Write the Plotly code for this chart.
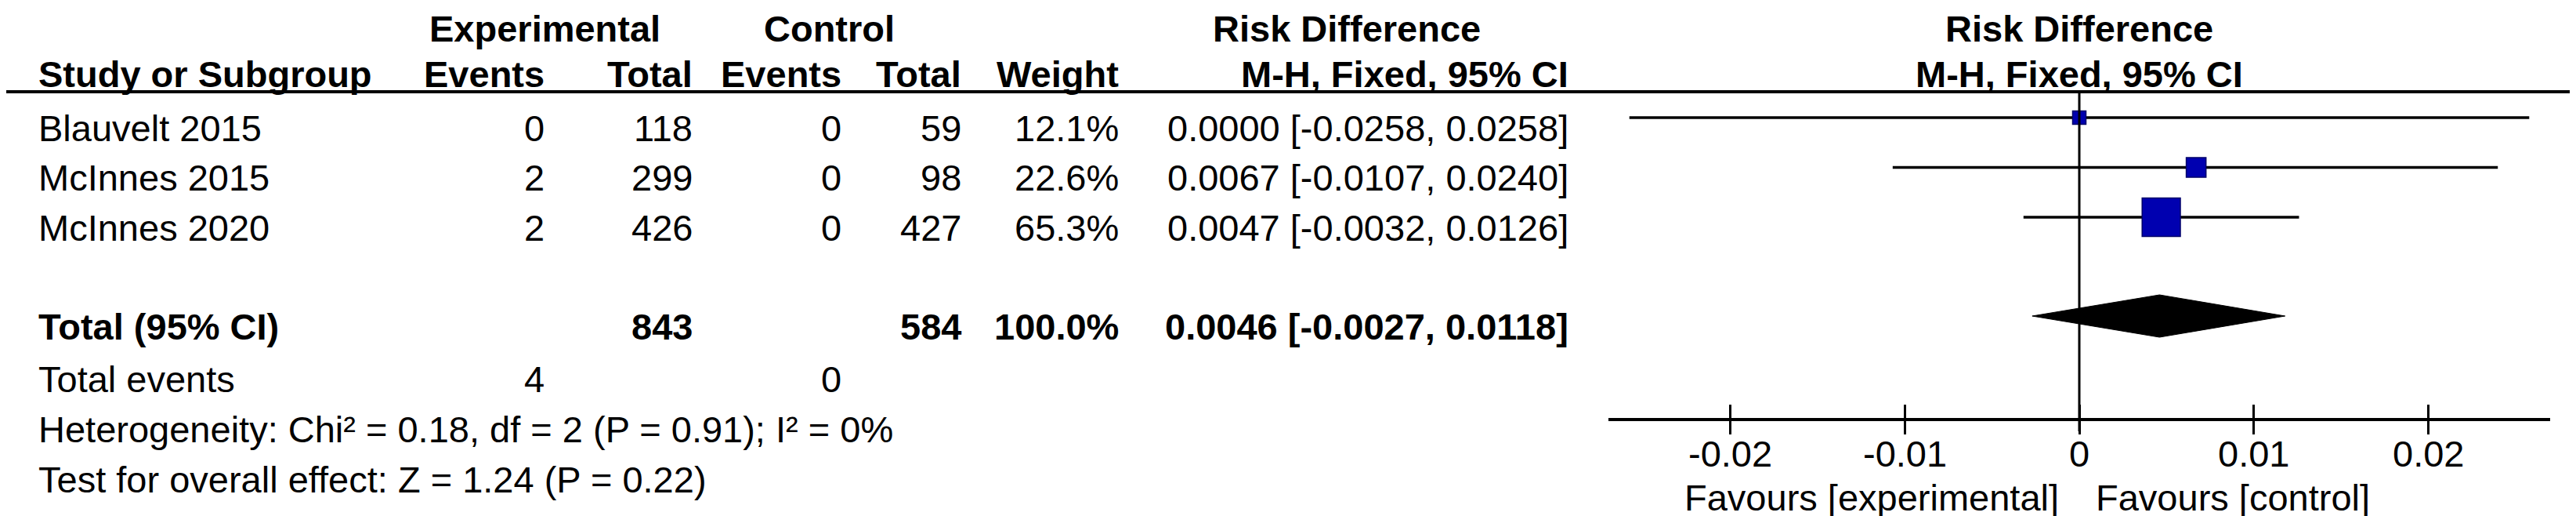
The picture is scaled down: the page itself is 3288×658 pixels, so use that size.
import plotly.graph_objects as go

# ---------------- data ----------------
studies = ["Blauvelt 2015", "McInnes 2015", "McInnes 2020"]
exp_events = [0, 2, 2]
exp_total = [118, 299, 426]
ctrl_events = [0, 0, 0]
ctrl_total = [59, 98, 427]
weights = [12.1, 22.6, 65.3]
rd = [0.0000, 0.0067, 0.0047]
rd_lo = [-0.0258, -0.0107, -0.0032]
rd_hi = [0.0258, 0.0240, 0.0126]

total_exp = 843
total_ctrl = 584
total_weight = 100.0
total_rd = 0.0046
total_lo = -0.0027
total_hi = 0.0118
total_events_exp = 4
total_events_ctrl = 0

heterogeneity = "Heterogeneity: Chi² = 0.18, df = 2 (P = 0.91); I² = 0%"
overall = "Test for overall effect: Z = 1.24 (P = 0.22)"

tick_vals = [-0.02, -0.01, 0, 0.01, 0.02]
tick_text = ["-0.02", "-0.01", "0", "0.01", "0.02"]
axis_range = [-0.027, 0.027]
favours_left = "Favours [experimental]"
favours_right = "Favours [control]"

# ---------------- layout constants (pixels) ----------------
W, H = 3288, 658
FONT = "Liberation Sans, Arial, sans-serif"
FS = 47
hdr1_y, hdr2_y, hline_y = 28, 86, 109
row0_y, row_dy = 155, 63.5
mark_off = -13
total_y, tevents_y, het_y, test_y = 408, 475, 539, 603
axis_y = 525
tick_lbl_y = 570
fav_y = 626
forest_x0, forest_x1 = 2045, 3247

col_events_e = 688
col_total_e = 877
col_events_c = 1067
col_total_c = 1220
col_weight = 1421
col_rd = 1995
col_study = 40

fig = go.Figure()

ann = []


def txt(x, y, s, anchor="left", bold=False, xref="x", xshift=0):
    ann.append(dict(x=x, y=y, xref=xref, yref="y", text=(f"<b>{s}</b>" if bold else s),
                    showarrow=False, xanchor=anchor, yanchor="middle", xshift=xshift,
                    borderpad=0,
                    font=dict(family=FONT, size=FS, color="black")))


# headers
txt(687, hdr1_y, "Experimental", "center", True)
txt(1050, hdr1_y, "Control", "center", True)
txt(1711, hdr1_y, "Risk Difference", "center", True)
txt(0, hdr1_y, "Risk Difference", "center", True, xref="x2")
txt(col_study, hdr2_y, "Study or Subgroup", "left", True)
txt(col_events_e, hdr2_y, "Events", "right", True)
txt(col_total_e, hdr2_y, "Total", "right", True)
txt(col_events_c, hdr2_y, "Events", "right", True)
txt(col_total_c, hdr2_y, "Total", "right", True)
txt(col_weight, hdr2_y, "Weight", "right", True)
txt(col_rd, hdr2_y, "M-H, Fixed, 95% CI", "right", True)
txt(0, hdr2_y, "M-H, Fixed, 95% CI", "center", True, xref="x2")

row_ys = [row0_y + i * row_dy for i in range(len(studies))]
for i, s in enumerate(studies):
    y = row_ys[i]
    txt(col_study, y, s)
    txt(col_events_e, y, str(exp_events[i]), "right")
    txt(col_total_e, y, str(exp_total[i]), "right")
    txt(col_events_c, y, str(ctrl_events[i]), "right")
    txt(col_total_c, y, str(ctrl_total[i]), "right")
    txt(col_weight, y, f"{weights[i]:.1f}%", "right")
    txt(col_rd, y, f"{rd[i]:.4f} [{rd_lo[i]:.4f}, {rd_hi[i]:.4f}]", "right")

txt(col_study, total_y, "Total (95% CI)", "left", True)
txt(col_total_e, total_y, str(total_exp), "right", True)
txt(col_total_c, total_y, str(total_ctrl), "right", True)
txt(col_weight, total_y, f"{total_weight:.1f}%", "right", True)
txt(col_rd, total_y, f"{total_rd:.4f} [{total_lo:.4f}, {total_hi:.4f}]", "right", True)
txt(col_study, tevents_y, "Total events")
txt(col_events_e, tevents_y, str(total_events_exp), "right")
txt(col_events_c, tevents_y, str(total_events_ctrl), "right")
txt(col_study, het_y, heterogeneity)
txt(col_study, test_y, overall)

# tick labels of the forest axis (placed through the x2 scale)
for v, t in zip(tick_vals, tick_text):
    txt(v, tick_lbl_y, t, "center", xref="x2")

txt(0, fav_y, favours_left, "right", xref="x2", xshift=-25)
txt(0, fav_y, favours_right, "left", xref="x2", xshift=20)

# ---------------- forest ----------------
mark_ys = [y + mark_off for y in row_ys]
fig.add_trace(go.Scatter(
    x=rd, y=mark_ys, xaxis="x2", yaxis="y2", mode="markers",
    marker=dict(size=1, color="rgba(0,0,0,0)"),
    error_x=dict(type="data", symmetric=False,
                 array=[h - m for h, m in zip(rd_hi, rd)],
                 arrayminus=[m - l for m, l in zip(rd, rd_lo)],
                 color="black", thickness=3.5, width=0),
    hoverinfo="skip", showlegend=False))

sizes = [3.58 * w ** 0.625 for w in weights]
fig.add_trace(go.Scatter(
    x=rd, y=mark_ys, xaxis="x2", yaxis="y2", mode="markers",
    marker=dict(symbol="square", size=sizes, color="#0000b0", opacity=1,
                line=dict(color="#00006a", width=1.5)),
    showlegend=False))

dy = total_y + mark_off
half = 27
fig.add_trace(go.Scatter(
    x=[total_lo, total_rd, total_hi, total_rd, total_lo],
    y=[dy, dy - half, dy, dy + half, dy],
    xaxis="x2", yaxis="y2", mode="lines", fill="toself",
    fillcolor="black", line=dict(color="black", width=1), showlegend=False))

shapes = [
    dict(type="line", xref="paper", yref="y", x0=0, x1=1, y0=hline_y, y1=hline_y,
         line=dict(color="black", width=4)),
    dict(type="line", xref="x2", yref="y", x0=0, x1=0, y0=hline_y, y1=axis_y + 17,
         line=dict(color="black", width=3)),
]

fig.update_layout(
    width=W, height=H, margin=dict(l=0, r=0, t=0, b=0),
    paper_bgcolor="white", plot_bgcolor="rgba(0,0,0,0)",
    annotations=ann, shapes=shapes,
    xaxis=dict(range=[0, W], visible=False, domain=[0, 1], fixedrange=True),
    yaxis=dict(range=[H, 0], visible=False, domain=[0, 1], fixedrange=True),
    xaxis2=dict(range=axis_range, domain=[forest_x0 / W, forest_x1 / W], anchor="y2",
                showline=True, linecolor="black", linewidth=4, showgrid=False,
                zeroline=False, ticks="outside", ticklen=17, tickwidth=3,
                tickcolor="black", tickvals=tick_vals, showticklabels=False,
                fixedrange=True),
    xaxis3=dict(range=axis_range, domain=[forest_x0 / W, forest_x1 / W], anchor="y2",
                overlaying="x2", showline=False, showgrid=False, zeroline=False,
                ticks="inside", ticklen=17, tickwidth=3, tickcolor="black",
                tickvals=tick_vals, showticklabels=False, fixedrange=True),
    yaxis2=dict(range=[axis_y, 0], domain=[(H - axis_y) / H, 1], visible=False,
                fixedrange=True),
)

# dummy trace so xaxis3 renders
fig.add_trace(go.Scatter(x=[0], y=[0], xaxis="x3", yaxis="y2", mode="markers",
                         marker=dict(size=1, color="rgba(0,0,0,0)"),
                         hoverinfo="skip", showlegend=False))

fig.write_html("out.html")
